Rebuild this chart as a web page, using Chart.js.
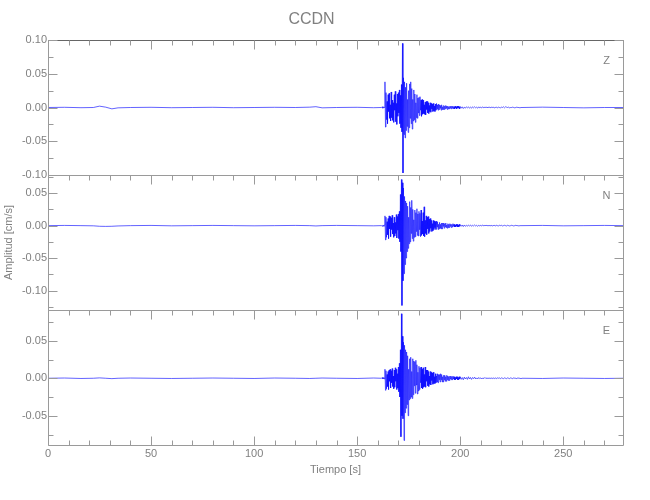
<!DOCTYPE html>
<html lang="es">

<head>
  <meta charset="UTF-8" />
  <script src="https://cdn.jsdelivr.net/npm/chart.js"></script>
  <title>CCDN</title>
  <style>
    * {
      padding: 0;
      margin: 0;
    }

    html,
    body {
      background-color: #ffffff;
      width: 650px;
      height: 500px;
      overflow: hidden;
    }

    .graph {
      position: relative;
      width: 650px;
      height: 500px;
    }
  </style>
</head>

<body>
  <div class="graph">
    <canvas id="seismoGraph" aria-label="Sismograma CCDN" role="img"></canvas>
  </div>

  <script>
    // Amplitudes in units of 0.001 cm/s
    const unit = 0.001;
    const channelNames = ['Z', 'N', 'E'];

    // quiet part before the arrival (sparse points)
    const quietTimes = [0, 8, 16, 22, 25, 28, 31, 34, 40, 50, 60, 70, 80, 90, 100, 110, 120, 127, 130, 133, 140, 150, 158, 161.75];
    const zQuiet = [0, 0.3, -0.3, 0, 2, 0.5, -2, -0.5, 0, 0.3, -0.3, 0, 0.3, -0.3, 0, 0.3, 0, 0.5, 1.2, -0.5, 0, 0.3, -0.3, 0];
    const nQuiet = [0, 0.3, 0, -0.3, -1, -1.2, -1, -0.5, 0, 0.3, -0.3, 0, 0.3, 0, -0.3, 0, 0.3, 0, -0.5, 0, 0.3, 0, -0.3, 0];
    const eQuiet = [0, 0.3, -0.3, 0, 0.5, 0, -0.5, 0, 0.3, 0, -0.3, 0, 0.3, 0, -0.3, 0.3, 0, -0.3, 0, 0.3, 0, -0.3, 0.3, 0];

    // P and S arrivals: samples every 0.25 s from 162 s
    const eventStart = 162;
    const eventStep = 0.25;
    const zEvent = [
      0, 1, -1, 0, 1, 0, 38, -29,
      22, -18, 9, -24, 19, -6, 21, -16,
      4, -20, 23, -15, 11, -19, 7, -22,
      19, -4, 24, -21, 6, -25, 20, -13,
      22, -8, 26, -24, 18, -30, 34, -36,
      95, -97, 44, -40, 38, -45, 30, -34,
      36, -28, 12, -37, 25, -30, 35, -16,
      38, -24, 28, -32, 12, -20, 26, -18,
      20, -22, 7, -15, 19, -16, 14, -8,
      15, -12, 16, -4, 11, -13, 12, -10,
      11, -9, 4, -10, 8, -11, 9, -3,
      9, -8, 7, -9, 3, -6, 7, -7,
      6, -2, 5, -6, 6, -5, 2, -6,
      5, -4, 6, -2, 4, -4, 5, -3,
      4, -1, 3, -4, 4, -3, 1, -3,
      3, -3, 2, -2, 3, -1, 2, -3,
      2, -2, 1, -2, 2, -1, 2, -2,
      2, -1, 2, -2, 1, -2, 2, -1,
      1, -2, 2, -1, 2, -1, 1, -2
    ];
    const nEvent = [
      0, -1, 1, 0, -1, 1, 15, -22,
      13, -18, 6, -14, 11, -20, 15, -5,
      14, -17, 12, -6, 16, -13, 4, -18,
      13, -16, 5, -12, 17, -19, 14, -7,
      18, -20, 22, -25, 48, -40, 71, -123,
      66, -85, 58, -74, 45, -60, 38, -50,
      35, -40, 30, -35, 13, -28, 37, -25,
      28, -12, 39, -20, 25, -24, 9, -18,
      24, -17, 20, -9, 26, -15, 18, -16,
      22, -6, 19, -17, 24, -15, 7, -13,
      20, -16, 29, -17, 8, -12, 15, -14,
      13, -5, 14, -12, 10, -9, 11, -4,
      8, -9, 3, -8, 8, -6, 7, -3,
      6, -6, 7, -2, 6, -6, 2, -5,
      5, -4, 2, -5, 4, -5, 4, -1,
      4, -4, 3, -2, 4, -3, 1, -4,
      3, -3, 2, -3, 3, -1, 2, -3,
      2, -2, 3, -1, 2, -2, 1, -2,
      2, -1, 2, -2, 1, -2, 2, -1
    ];
    const eEvent = [
      0, 1, -1, 0, 1, -1, 12, -16,
      10, -14, 5, -11, 9, -15, 11, -4,
      12, -13, 10, -6, 13, -11, 3, -14,
      11, -12, 14, -4, 12, -15, 6, -13,
      15, -18, 20, -25, 38, -78, 86, -50,
      56, -54, 48, -83, 44, -46, 38, -40,
      35, -35, 30, -50, 12, -29, 26, -27,
      28, -25, 9, -27, 26, -22, 23, -10,
      22, -20, 24, -9, 18, -21, 8, -17,
      16, -15, 14, -6, 15, -13, 12, -14,
      14, -12, 5, -11, 15, -12, 11, -4,
      11, -10, 9, -11, 3, -8, 9, -9,
      8, -3, 7, -8, 8, -7, 2, -7,
      6, -6, 3, -5, 6, -6, 5, -2,
      5, -5, 6, -2, 5, -5, 2, -5,
      4, -2, 4, -4, 2, -4, 4, -2,
      3, -3, 2, -3, 3, -1, 3, -2,
      2, -2, 3, -1, 2, -2, 1, -2,
      2, -1, 2, -2, 1, -2, 2, -1
    ];

    // coda: samples every 0.5 s from 200 s
    const codaStart = 200;
    const codaStep = 0.5;
    const zCoda = [
      1.5, -1, 1, -1.5, 0.5, -1, 1, -0.5, 1, -1,
      0.5, -1, 1, -0.5, 1, -0.5, 0.5, -1, 1, -0.5,
      0.5, -0.5, 1, -0.5, 0.5, 0, 0.5, -0.5, 1, -0.5,
      0.5, 0, 0.5, -0.5, 0, 0.5, -0.5, 0.5, 0, -0.5,
      0.5, 0, 1, -0.5, 1, 0.5, 0, 0.5, -0.5, 0,
      0, 0.5, 0, -0.5, 0, 0.5, 0, 0, -0.5, 0
    ];
    const nCoda = [
      1.5, -1, 1, -1.5, 1, -1, 0.5, -1, 1, -0.5,
      1, -1, 0.5, -0.5, 1, -0.5, 0.5, -1, 0.5, -0.5,
      0.5, -0.5, 1, -0.5, 0.5, 0, 0.5, -0.5, 0.5, -0.5,
      0.5, -0.5, 0, 0.5, -0.5, 0.5, 0, -0.5, 0.5, 0,
      0.5, -0.5, 0, 0.5, 0, -0.5, 0.5, 0, -0.5, 0,
      0.5, 0, -0.5, 0, 0.5, 0, 0, -0.5, 0, 0
    ];
    const eCoda = [
      2, -1.5, 1, -2, 1.5, -1, 1, -1.5, 2, -1,
      1, -1.5, 1, -0.5, 1.5, -1, 0.5, -1, 1, -0.5,
      0.5, -1, 0.5, -0.5, 1, -0.5, 0.5, -0.5, 0.5, -0.5,
      0.5, -0.5, 0.5, -0.5, 0.5, -0.5, 0.5, 0, 0.5, -0.5,
      0.5, 0, -0.5, 0.5, 0, -0.5, 0.5, 0, -0.5, 0.5,
      0, -0.5, 0.5, 0, 0, -0.5, 0.5, 0, 0, -0.5
    ];

    // quiet tail
    const tailTimes = [230, 240, 250, 260, 270, 279];
    const zTail = [0, 0.5, 0, -0.5, 0, 0];
    const nTail = [0, 0.3, -0.3, 0, 0.3, 0];
    const eTail = [0, -0.3, 0.3, 0, -0.3, 0];

    // axis ranges of each panel (cm/s)
    const yMins = [-0.10, -0.130, -0.089];
    const yMaxs = [0.10, 0.078, 0.091];
    const xMax = 279;

    const axisColor = '#9a9a9a';
    const textColor = '#808080';
    const fontFamily = "'Liberation Sans', Arial, sans-serif";

    function buildTrace(quiet, ev, coda, tail) {
      const pts = [];
      for (var i = 0; i < quietTimes.length; i++) pts.push({ x: quietTimes[i], y: quiet[i] * unit });
      for (var i = 0; i < ev.length; i++) pts.push({ x: eventStart + i * eventStep, y: ev[i] * unit });
      for (var i = 0; i < coda.length; i++) pts.push({ x: codaStart + i * codaStep, y: coda[i] * unit });
      for (var i = 0; i < tailTimes.length; i++) pts.push({ x: tailTimes[i], y: tail[i] * unit });
      return pts;
    }

    const traces = [
      buildTrace(zQuiet, zEvent, zCoda, zTail),
      buildTrace(nQuiet, nEvent, nCoda, nTail),
      buildTrace(eQuiet, eEvent, eCoda, eTail)
    ];
    const axisIds = ['yZ', 'yN', 'yE'];

    Chart.defaults.font.family = fontFamily;
    Chart.defaults.font.size = 11;
    Chart.defaults.color = textColor;

    // only the round values get a label (Chart.js would add min/max)
    function roundTicks(step) {
      return function (scale) {
        const ticks = [];
        const k0 = Math.ceil(scale.min / step - 1e-6);
        const k1 = Math.floor(scale.max / step + 1e-6);
        for (var k = k0; k <= k1; k++) ticks.push({ value: k * step });
        scale.ticks = ticks;
      };
    }

    function yAxis(i, withTitle) {
      return {
        type: 'linear',
        position: 'left',
        stack: 'panels',
        stackWeight: 1,
        min: yMins[i],
        max: yMaxs[i],
        grid: { display: false, drawTicks: false },
        border: { display: false },
        ticks: {
          autoSkip: false,
          padding: 1,
          callback: v => (Math.abs(v) < 1e-9 ? '0.00' : v.toFixed(2))
        },
        afterBuildTicks: roundTicks(0.05),
        afterFit: s => { s.width = 48; },
        title: {
          display: withTitle,
          text: 'Amplitud [cm/s]',
          padding: { top: 2, bottom: 0 }
        }
      };
    }

    // frame, inward ticks and channel letters
    const panelFrames = {
      id: 'panelFrames',
      afterDatasetsDraw(chart) {
        const ctx = chart.ctx;
        const x = chart.scales.x;
        const left = chart.chartArea.left;
        const right = chart.chartArea.right;
        ctx.save();
        ctx.lineWidth = 1;

        function seg(x1, y1, x2, y2) {
          ctx.beginPath();
          ctx.moveTo(x1, y1);
          ctx.lineTo(x2, y2);
          ctx.stroke();
        }

        axisIds.forEach((id, i) => {
          const s = chart.scales[id];
          const top = Math.round(s.top) + 0.5;
          const bottom = Math.round(s.bottom) + 0.5;
          const l = Math.round(left) + 0.5;
          const r = Math.round(right) + 0.5;
          ctx.strokeStyle = axisColor;
          seg(l, top, l, bottom);
          seg(r, top, r, bottom);
          seg(l, bottom, r, bottom);
          ctx.strokeStyle = i === 0 ? '#666666' : axisColor;
          seg(l, top, r, top);
          ctx.strokeStyle = axisColor;

          // time ticks, minor every 10 s
          for (var t = 0; t <= xMax; t += 10) {
            const px = Math.round(x.getPixelForValue(t)) + 0.5;
            const len = t % 50 === 0 ? 9 : 5;
            seg(px, top, px, top + len);
            if (i === axisIds.length - 1) seg(px, bottom, px, bottom - len);
          }

          // amplitude ticks, minor every 0.025
          const k0 = Math.ceil(yMins[i] / 0.025 - 1e-6);
          const k1 = Math.floor(yMaxs[i] / 0.025 + 1e-6);
          for (var k = k0; k <= k1; k++) {
            const py = Math.round(s.getPixelForValue(k * 0.025)) + 0.5;
            const len = k % 2 === 0 ? 9 : 5;
            seg(l, py, l + len, py);
            seg(r, py, r - len, py);
          }

          ctx.fillStyle = textColor;
          ctx.font = '11px ' + fontFamily;
          ctx.textAlign = 'center';
          ctx.textBaseline = 'middle';
          ctx.fillText(channelNames[i], r - 17, top + 20);
        });
        ctx.restore();
      }
    };

    const seismoGraph = document.getElementById('seismoGraph');

    const seismoGraphChart = new Chart(seismoGraph, {
      type: 'line',
      data: {
        datasets: traces.map((pts, i) => ({
          label: channelNames[i],
          data: pts,
          yAxisID: axisIds[i],
          borderColor: 'rgba(10, 10, 255, 0.8)',
          borderWidth: 0.8,
          pointRadius: 0,
          tension: 0,
          fill: false
        }))
      },
      options: {
        responsive: true,
        maintainAspectRatio: false,
        animation: false,
        normalized: true,
        parsing: false,
        layout: {
          padding: { left: 0, right: 27, top: 0, bottom: 23.6 }
        },
        scales: {
          x: {
            type: 'linear',
            min: 0,
            max: xMax,
            grid: { display: false, drawTicks: false },
            border: { display: false },
            ticks: {
              autoSkip: false,
              maxRotation: 0,
              padding: 2
            },
            afterBuildTicks: roundTicks(50),
            title: {
              display: true,
              text: 'Tiempo [s]',
              padding: { top: 1, bottom: 0 }
            }
          },
          yE: yAxis(2, false),
          yN: yAxis(1, true),
          yZ: yAxis(0, false)
        },
        plugins: {
          legend: { display: false },
          tooltip: { enabled: false },
          title: {
            display: true,
            text: 'CCDN',
            color: textColor,
            font: {
              size: 16,
              weight: 'normal',
              lineHeight: 1.25
            },
            padding: { top: 10, bottom: 10 }
          }
        }
      },
      plugins: [panelFrames]
    });
  </script>
</body>

</html>
